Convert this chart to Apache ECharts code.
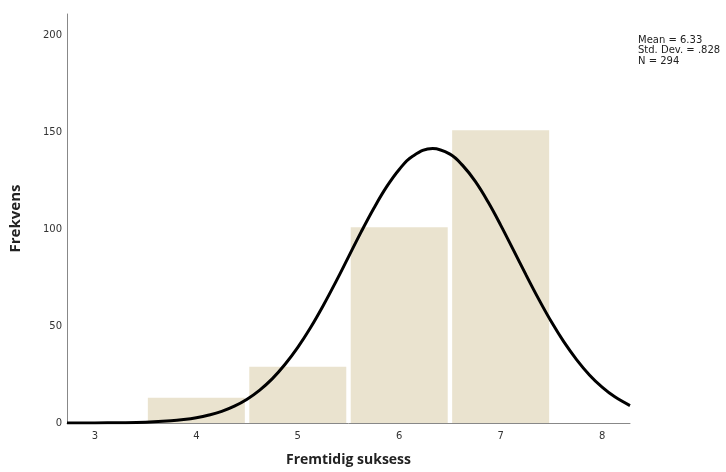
<!DOCTYPE html>
<html>
<head>
<meta charset="utf-8">
<script src="https://cdn.jsdelivr.net/npm/echarts@6/dist/echarts.min.js"></script>
<style>html,body{margin:0;padding:0;background:#fff}#c{width:726px;height:472px}</style>
</head>
<body>
<div id="c"></div>
<script>
// Histogram bins (midpoints) and frequencies
const binCenters = [4, 5, 6, 7];
const frequencies = [13, 29, 101, 151];
// Normal curve overlay (x, frequency)
const curveX = [2.725, 3, 3.25, 3.5, 3.75, 3.875, 4, 4.125, 4.25, 4.375, 4.5, 4.625, 4.75, 4.875, 5, 5.125, 5.25, 5.375, 5.5, 5.625, 5.75, 5.875, 6, 6.125, 6.33, 6.5, 6.625, 6.75, 6.875, 7, 7.125, 7.25, 7.375, 7.5, 7.625, 7.75, 7.875, 8, 8.125, 8.275];
const curveY = [0.01, 0.04, 0.14, 0.41, 1.1, 1.75, 2.7, 4.1, 6.0, 8.7, 12.3, 17.0, 22.9, 30.3, 39.0, 49.1, 60.5, 72.8, 85.7, 98.6, 110.8, 121.8, 130.8, 137.4, 141.65, 138.7, 132.9, 124.6, 114.1, 102.1, 89.3, 76.4, 63.9, 52.2, 41.7, 32.6, 24.8, 18.5, 13.5, 9.0];
const xTicks = [3, 4, 5, 6, 7, 8];
const yTicks = [0, 50, 100, 150, 200];
const statsLines = ['Mean = 6.33', 'Std. Dev. = .828', 'N = 294'];

const chart = echarts.init(document.getElementById('c'));
chart.setOption({
  animation: false,
  grid: { left: 65, right: 96, top: 14, bottom: 48 },
  xAxis: {
    type: 'value', min: 2.725, max: 8.275,
    name: 'Fremtidig suksess', nameLocation: 'middle', nameGap: 30,
    nameTextStyle: { fontFamily: 'Open Sans', fontWeight: 'bold', fontSize: 14, color: '#222' },
    axisLine: { show: true, lineStyle: { color: '#888', width: 1 } },
    axisTick: { show: false },
    splitLine: { show: false },
    axisLabel: { customValues: xTicks, color: '#333', fontFamily: 'DejaVu Sans', fontSize: 10, margin: 8 }
  },
  yAxis: {
    type: 'value', min: 0, max: 211,
    name: 'Frekvens', nameLocation: 'middle', nameGap: 44,
    nameTextStyle: { fontFamily: 'Open Sans', fontWeight: 'bold', fontSize: 15, color: '#222' },
    axisLine: { show: true, lineStyle: { color: '#888', width: 1 } },
    axisTick: { show: false },
    splitLine: { show: false },
    axisLabel: { customValues: yTicks, color: '#333', fontFamily: 'DejaVu Sans', fontSize: 10, margin: 5 }
  },
  graphic: [{
    type: 'text', left: 638, top: 35,
    style: { text: statsLines.join('\n'), fontFamily: 'DejaVu Sans', fontSize: 10, lineHeight: 10.5, fill: '#222' }
  }],
  series: [
    {
      type: 'bar', barWidth: 97,
      data: binCenters.map((c, i) => [c, frequencies[i]]),
      itemStyle: { color: '#EAE3CF' },
      z: 1
    },
    {
      type: 'line', smooth: 0.4, showSymbol: false,
      data: curveX.map((x, i) => [x, curveY[i]]),
      lineStyle: { color: '#000', width: 3 },
      z: 3
    }
  ]
});
</script>
</body>
</html>
